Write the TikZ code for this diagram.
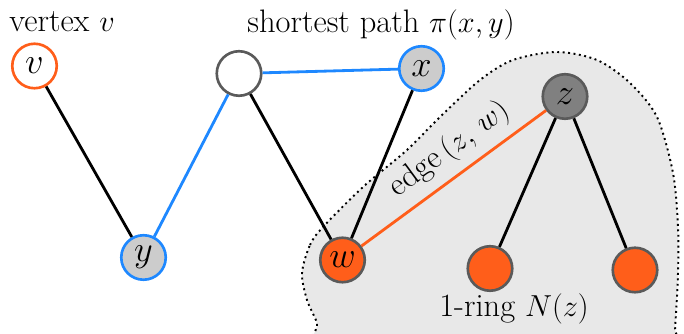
\documentclass[tikz,border=0pt]{standalone}
\usepackage{amsmath,amssymb}
\usepackage{xcolor}
\usepackage{tikz}
\usetikzlibrary{positioning}

\definecolor{ringorange}{RGB}{255,94,26}
\definecolor{pathblue}{RGB}{30,136,255}
\definecolor{rimgray}{RGB}{90,90,90}
\definecolor{lightfill}{RGB}{204,204,204}
\definecolor{darkfill}{RGB}{128,128,128}
\definecolor{blobfill}{RGB}{232,232,232}

\begin{document}
\begin{tikzpicture}[
  vert/.style={circle, draw=rimgray, line width=1.5pt, fill=white, minimum size=0.89cm, inner sep=0pt, font=\fontsize{20}{24}\selectfont},
  onpath/.style={vert, draw=pathblue, fill=lightfill},
  ring/.style={vert, fill=ringorange},
  lbl/.style={font=\fontsize{18.5}{22}\selectfont, text=black, inner sep=0pt},
  edge/.style={line width=1.6pt}
]
\useasboundingbox (0,0) rectangle (13.68,6.68);

% the 1-ring region
\begin{scope}
\clip (0,0) rectangle (13.68,6.68);
\draw [dotted, line width=1.1pt, fill=blobfill] plot [smooth cycle, tension=0.5] coordinates
  {(6.04,1.22) (6.2,1.78) (6.46,2.14) (7.26,2.94) (8.14,3.68) (8.80,4.34) (9.60,5.08)
   (10.26,5.48) (11.14,5.64) (11.94,5.48) (12.60,5.02) (13.14,4.34) (13.46,3.22)
   (13.56,2.14) (13.56,1.22) (13.50,0.14) (13.4,-0.52) (10,-0.9) (6.5,-0.4)
   (6.34,0.22) (6.14,0.68)};
\end{scope}

% vertices
\node [vert, draw=ringorange] (v) at (0.69,5.36) {$v$};
\node [onpath] (y) at (2.87,1.53) {$y$};
\node [vert] (u) at (4.78,5.21) {};
\node [onpath] (x) at (8.43,5.31) {$x$};
\node [vert, fill=darkfill] (z) at (11.30,4.75) {$z$};
\node [ring] (w) at (6.85,1.48) {$w$};
\node [ring] (r1) at (9.80,1.31) {};
\node [ring] (r2) at (12.70,1.28) {};

% edges
\draw [edge] (v) -- (y);
\draw [edge] (u) -- (w);
\draw [edge] (x) -- (w);
\foreach\n in {r1,r2}
  \draw [edge] (z) -- (\n);
\draw [edge, pathblue] (y) -- (u) -- (x);
\draw [edge, ringorange] (w) -- (z) node [pos=0.56, above=5pt, sloped, lbl] {edge$\,(z,\,w)$};

% labels
\node [lbl, anchor=base west] (vlabel) at (0.18,6.04) {vertex $v$};
\node [lbl, anchor=base west] (plabel) at (4.94,6.02) {shortest path $\pi(x,y)$};
\node [lbl, anchor=base] (rlabel) at (10.28,0.34) {1-ring $N(z)$};
\end{tikzpicture}
\end{document}
